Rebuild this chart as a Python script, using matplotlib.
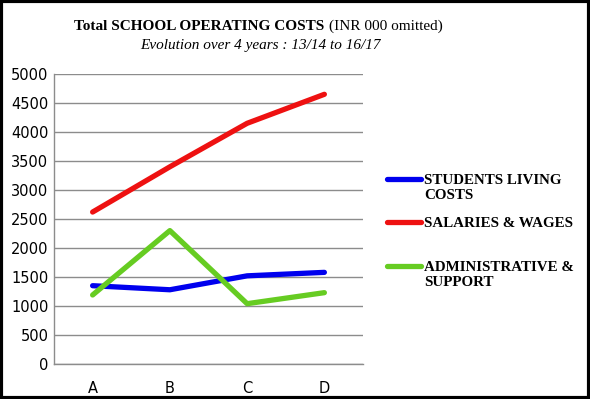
import matplotlib
matplotlib.use('Agg')
import matplotlib.pyplot as plt
from matplotlib.lines import Line2D
from matplotlib.patches import Rectangle

categories = ['A', 'B', 'C', 'D']
students_living = [1350, 1280, 1520, 1580]
salaries_wages = [2620, 3400, 4150, 4650]
admin_support = [1190, 2300, 1040, 1230]

series_labels = [['STUDENTS LIVING', 'COSTS'], ['SALARIES & WAGES'], ['ADMINISTRATIVE &', 'SUPPORT']]
series_colors = ['#0000ee', '#ee1111', '#66cc22']

W, H = 590, 399
fig = plt.figure(figsize=(5.9, 3.99), dpi=100)
ax = fig.add_axes([54 / W, 35 / H, 309 / W, 290 / H])

x = range(len(categories))
for vals, col in zip([students_living, salaries_wages, admin_support], series_colors):
    ax.plot(x, vals, color=col, linewidth=3.8, solid_capstyle='round', zorder=3)

ax.set_xlim(-0.5, 3.5)
ax.set_ylim(0, 5000)
ax.set_yticks(range(0, 5001, 500))
ax.set_xticks(list(x))
ax.set_xticklabels(categories)
ax.grid(axis='y', color='#8c8c8c', linewidth=1.0)
ax.set_axisbelow(True)
for s in ['top', 'right']:
    ax.spines[s].set_visible(False)
for s in ['left', 'bottom']:
    ax.spines[s].set_color('#8c8c8c')
    ax.spines[s].set_linewidth(1.0)
ax.tick_params(length=0, labelsize=10.5)
ax.tick_params(axis='y', pad=4)
ax.tick_params(axis='x', pad=12)
for lab in ax.get_xticklabels() + ax.get_yticklabels():
    lab.set_family('DejaVu Sans')

# titles
fig.text(324 / W, 1 - 26 / H, 'Total SCHOOL OPERATING COSTS', ha='right', va='center',
         family='Liberation Serif', fontweight='bold', fontsize=11)
fig.text(329 / W, 1 - 26 / H, '(INR 000 omitted)', ha='left', va='center',
         family='Liberation Serif', fontsize=11)
fig.text(260 / W, 1 - 45 / H, 'Evolution over 4 years : 13/14 to 16/17', ha='center', va='center',
         family='Liberation Serif', fontstyle='italic', fontsize=11)

# legend drawn manually
legend_y = [179, 222, 266]
for lines, col, yy in zip(series_labels, series_colors, legend_y):
    fig.add_artist(Line2D([387 / W, 421 / W], [1 - yy / H, 1 - yy / H], color=col, linewidth=3.8,
                          solid_capstyle='round', transform=fig.transFigure))
    for i, txt in enumerate(lines):
        base = yy + 5 + i * 15
        fig.text(424 / W, 1 - base / H, txt, ha='left', va='baseline', family='Liberation Serif',
                 fontweight='bold', fontsize=10.8)

fig.add_artist(Rectangle((0.002, 0.003), 0.996, 0.994, transform=fig.transFigure,
                         fill=False, edgecolor='black', linewidth=3))

fig.savefig('out.png', dpi=100)
